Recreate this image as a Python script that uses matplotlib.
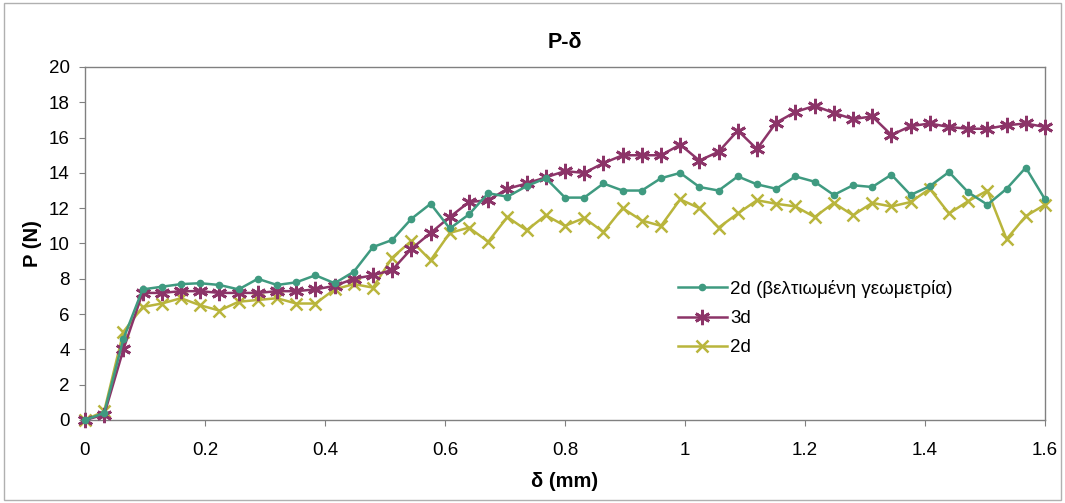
import numpy as np
import matplotlib
matplotlib.use("Agg")
import matplotlib.pyplot as plt
from matplotlib.patches import Rectangle

plt.rcParams['font.family'] = ['Liberation Sans', 'DejaVu Sans']

# x positions (mm)
delta = [round(0.032 * i, 3) for i in range(51)]

p_2d_improved = [0.0, 0.4, 4.6, 7.4, 7.55, 7.7, 7.75, 7.65, 7.4, 8.0,
                 7.65, 7.8, 8.2, 7.75, 8.4, 9.8, 10.2, 11.4, 12.25, 10.85,
                 11.65, 12.85, 12.65, 13.25, 13.7, 12.6, 12.6, 13.4, 13.0, 13.0,
                 13.7, 14.0, 13.2, 13.0, 13.8, 13.35, 13.1, 13.8, 13.5, 12.75,
                 13.3, 13.2, 13.9, 12.75, 13.25, 14.05, 12.9, 12.2, 13.1, 14.3,
                 12.5]

p_3d = [0.0, 0.3, 4.0, 7.2, 7.2, 7.3, 7.3, 7.2, 7.2, 7.2,
        7.3, 7.3, 7.4, 7.6, 8.0, 8.2, 8.5, 9.7, 10.6, 11.5,
        12.35, 12.45, 13.1, 13.4, 13.75, 14.1, 14.0, 14.55, 15.0, 15.0,
        15.0, 15.6, 14.7, 15.2, 16.4, 15.35, 16.85, 17.45, 17.8, 17.4,
        17.05, 17.2, 16.15, 16.65, 16.8, 16.6, 16.5, 16.5, 16.7, 16.8,
        16.6]

p_2d = [0.0, 0.5, 5.0, 6.4, 6.6, 6.9, 6.5, 6.2, 6.7, 6.8,
        6.9, 6.6, 6.6, 7.4, 7.7, 7.5, 9.2, 10.15, 9.05, 10.6,
        10.9, 10.1, 11.5, 10.75, 11.6, 11.0, 11.45, 10.65, 12.0, 11.3,
        11.0, 12.5, 12.0, 10.9, 11.7, 12.45, 12.25, 12.1, 11.5, 12.3,
        11.6, 12.3, 12.1, 12.35, 13.1, 11.7, 12.4, 13.0, 10.25, 11.55,
        12.2]

labels = ["2d (βελτιωμένη γεωμετρία)", "3d", "2d"]
xticks = [0, 0.2, 0.4, 0.6, 0.8, 1, 1.2, 1.4, 1.6]
xticklabels = ["0", "0.2", "0.4", "0.6", "0.8", "1", "1.2", "1.4", "1.6"]
yticks = list(range(0, 21, 2))

c_green = "#3f9a80"
c_purple = "#8c3468"
c_yellow = "#b9b53c"

fig = plt.figure(figsize=(10.65, 5.03), dpi=100)
fig.patch.set_facecolor("white")
fig.add_artist(Rectangle((0.004, 0.006), 0.992, 0.988, transform=fig.transFigure,
                         fill=False, edgecolor="#b0b0b0", linewidth=1.0))

ax = fig.add_axes([85 / 1065, 1 - 420 / 503, 960 / 1065, 353 / 503])

ax.plot(delta, p_2d, color=c_yellow, lw=1.8, marker="x", ms=9, mew=1.8,
        label=labels[2], zorder=3, clip_on=False)
ax.plot(delta, p_3d, color=c_purple, lw=1.8, marker=(6, 2, 0), ms=11, mew=2.0,
        label=labels[1], zorder=4, clip_on=False)
ax.plot(delta, p_2d_improved, color=c_green, lw=1.8, marker="o", ms=4.5,
        label=labels[0], zorder=5, clip_on=False)

ax.set_xlim(0, 1.6)
ax.set_ylim(0, 20)
ax.set_xticks(xticks)
ax.set_xticklabels(xticklabels)
ax.set_yticks(yticks)

for s in ax.spines.values():
    s.set_color("#808080")
    s.set_linewidth(1.0)

ax.tick_params(axis="both", labelsize=13.5, colors="#808080", length=4,
               direction="out", labelcolor="black")
ax.tick_params(axis="x", pad=12)
ax.tick_params(axis="y", pad=7)

ax.set_title("P-δ", fontsize=15.5, fontweight="bold", pad=14)
ax.set_xlabel("δ (mm)", fontsize=14.5, fontweight="bold", labelpad=9)
ax.set_ylabel("P (N)", fontsize=14.5, fontweight="bold", labelpad=5)

h, l = ax.get_legend_handles_labels()
order = [2, 1, 0]
ax.legend([h[i] for i in order], [l[i] for i in order], loc="upper left",
          bbox_to_anchor=(0.6, 0.445), frameon=False, fontsize=13.5,
          handlelength=2.6, handletextpad=0.2, labelspacing=0.65)

fig.savefig("out.png", dpi=100)
